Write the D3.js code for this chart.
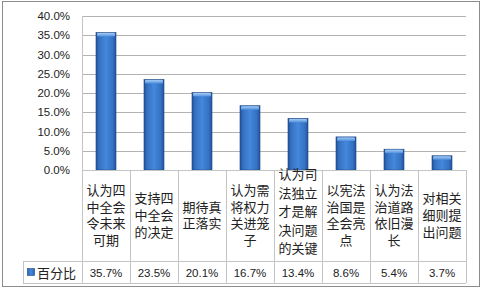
<!DOCTYPE html>
<html>
<head>
<meta charset="utf-8">
<script src="https://cdn.jsdelivr.net/npm/d3@7"></script>
<style>
  body { margin: 0; background: #fff; }
  svg { display: block; }
</style>
</head>
<body>
<svg id="chart"></svg>
<script>
const categories = [
    '认为四中全会令未来可期',
    '支持四中全会的决定',
    '期待真正落实',
    '认为需将权力关进笼子',
    '认为司法独立才是解决问题的关键',
    '以宪法治国是全会亮点',
    '认为法治道路依旧漫长',
    '对相关细则提出问题'
];
const values = [35.7, 23.5, 20.1, 16.7, 13.4, 8.6, 5.4, 3.7];
const yTicks = [0, 5, 10, 15, 20, 25, 30, 35, 40];
const seriesName = '百分比';

const svgWidth = 484, svgHeight = 289;
const plot = { left: 82, right: 466, top: 16, bottom: 170 };
const table = { legendLeft: 23, rowSplit: 261, bottom: 283 };
const cjk = '"Noto Sans CJK SC", "Noto Sans", sans-serif';
const latin = '"Liberation Sans", Arial, sans-serif';

const svg = d3.select('#chart')
    .attr('width', svgWidth)
    .attr('height', svgHeight);

// gradients for the bevelled bars
const defs = svg.append('defs');
const side = defs.append('linearGradient').attr('id', 'barSide')
    .attr('x1', 0).attr('x2', 1).attr('y1', 0).attr('y2', 0);
[[0, '#21539a'], [0.15, '#3370c2'], [0.5, '#4688dc'], [0.85, '#3370c2'], [1, '#215299']]
    .forEach(s => side.append('stop').attr('offset', s[0]).attr('stop-color', s[1]));
const cap = defs.append('linearGradient').attr('id', 'barCap')
    .attr('x1', 0).attr('x2', 0).attr('y1', 0).attr('y2', 1);
[[0, '#a4cbf5'], [1, '#4f8fdc']]
    .forEach(s => cap.append('stop').attr('offset', s[0]).attr('stop-color', s[1]));

// chart area border
svg.append('rect')
    .attr('x', 2.5).attr('y', 1.5)
    .attr('width', 477).attr('height', 285)
    .attr('fill', '#fff')
    .attr('stroke', '#8c8c8c');

const x = d3.scaleBand()
    .domain(categories)
    .range([plot.left, plot.right])
    .padding(0);
const y = d3.scaleLinear()
    .domain([0, 40])
    .range([plot.bottom, plot.top]);

// gridlines
svg.append('g')
    .selectAll('line')
    .data(yTicks)
    .enter()
    .append('line')
    .attr('x1', plot.left).attr('x2', plot.right)
    .attr('y1', d => Math.round(y(d)) + 0.5)
    .attr('y2', d => Math.round(y(d)) + 0.5)
    .attr('stroke', '#b3b3b3');

// y axis labels
const gY = svg.append('g')
    .attr('transform', 'translate(' + plot.left + ',0)')
    .call(d3.axisLeft(y).tickValues(yTicks).tickSize(0).tickPadding(12)
        .tickFormat(d => d.toFixed(1) + '%'));
gY.select('.domain').remove();
gY.selectAll('text')
    .attr('font-family', latin)
    .attr('font-size', 11.5)
    .attr('fill', '#222');

// bars
const barW = 20;
const bars = svg.append('g')
    .selectAll('g')
    .data(values)
    .enter()
    .append('g')
    .attr('transform', (d, i) => 'translate(' + (x(categories[i]) + x.bandwidth() / 2 - barW / 2) + ',0)');
bars.append('rect')
    .attr('x', 0).attr('width', barW)
    .attr('y', d => y(d))
    .attr('height', d => y(0) - y(d))
    .attr('fill', 'url(#barSide)')
    .attr('stroke', '#1f477e')
    .attr('stroke-width', 0.6);
bars.append('rect')
    .attr('x', 1).attr('width', barW - 2)
    .attr('y', d => y(d) + 0.5)
    .attr('height', 3.5)
    .attr('rx', 1)
    .attr('fill', 'url(#barCap)');

// data table
const tbl = svg.append('g')
    .attr('stroke', '#c4c4c4')
    .attr('shape-rendering', 'crispEdges');
tbl.append('line')
    .attr('x1', plot.left).attr('x2', plot.right)
    .attr('y1', plot.bottom + 0.5).attr('y2', plot.bottom + 0.5);
tbl.append('line')
    .attr('x1', table.legendLeft).attr('x2', plot.right)
    .attr('y1', table.rowSplit + 0.5).attr('y2', table.rowSplit + 0.5);
tbl.append('line')
    .attr('x1', table.legendLeft).attr('x2', plot.right)
    .attr('y1', table.bottom + 0.5).attr('y2', table.bottom + 0.5);
tbl.append('line')
    .attr('x1', table.legendLeft + 0.5).attr('x2', table.legendLeft + 0.5)
    .attr('y1', table.rowSplit).attr('y2', table.bottom);
tbl.append('line')
    .attr('x1', plot.left + 0.5).attr('x2', plot.left + 0.5)
    .attr('y1', plot.top).attr('y2', table.bottom);
tbl.selectAll('line.sep')
    .data(categories)
    .enter()
    .append('line')
    .attr('class', 'sep')
    .attr('x1', d => Math.round(x(d) + x.bandwidth()) + 0.5)
    .attr('x2', d => Math.round(x(d) + x.bandwidth()) + 0.5)
    .attr('y1', plot.bottom).attr('y2', table.bottom);

// category labels, three characters per line
// (the five-line label is spread a bit wider in the original)
svg.append('g')
    .selectAll('text')
    .data(categories)
    .enter()
    .append('text')
    .attr('font-family', cjk)
    .attr('font-size', 13)
    .attr('fill', '#222')
    .attr('text-anchor', 'middle')
    .each(function (d) {
        const lines = d.match(/.{1,3}/g);
        const t = d3.select(this);
        const cx = x(d) + x.bandwidth() / 2;
        const lineH = lines.length > 4 ? 18.5 : 16.7;
        const mid = lines.length > 4 ? 211.5 : 215.5;
        const y0 = mid - (lines.length - 1) * lineH / 2;
        lines.forEach((l, k) => {
            t.append('tspan')
                .attr('x', cx)
                .attr('y', y0 + k * lineH)
                .attr('dy', '0.35em')
                .text(l);
        });
    });

// value row
const rowMid = (table.rowSplit + table.bottom) / 2 + 1;
svg.append('g')
    .selectAll('text')
    .data(values)
    .enter()
    .append('text')
    .attr('x', (d, i) => x(categories[i]) + x.bandwidth() / 2)
    .attr('y', rowMid)
    .attr('dy', '0.35em')
    .attr('text-anchor', 'middle')
    .attr('font-family', latin)
    .attr('font-size', 11.5)
    .attr('fill', '#222')
    .text(d => d.toFixed(1) + '%');

// legend key in table
svg.append('rect')
    .attr('x', 27.5).attr('y', rowMid - 4.5)
    .attr('width', 7).attr('height', 7)
    .attr('fill', 'url(#barSide)')
    .attr('stroke', '#1f477e')
    .attr('stroke-width', 0.6);
svg.append('text')
    .attr('x', 37)
    .attr('y', rowMid)
    .attr('dy', '0.35em')
    .attr('font-family', cjk)
    .attr('font-size', 13)
    .attr('fill', '#222')
    .text(seriesName);
</script>
</body>
</html>
